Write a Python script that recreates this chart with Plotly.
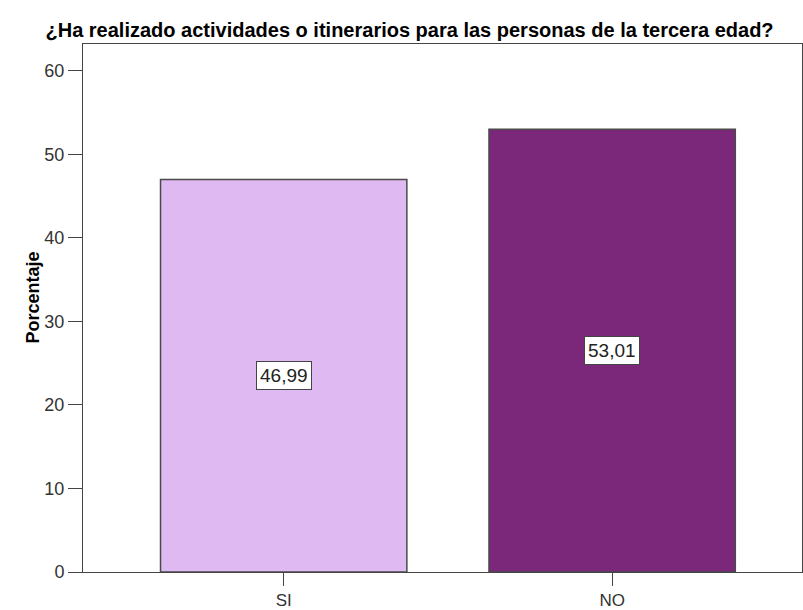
import plotly.graph_objects as go

# Survey answers and their percentages
categories = ["SI", "NO"]
percentages = [46.99, 53.01]
bar_colors = ["#DFB9F2", "#7B287B"]
y_ticks = [0, 10, 20, 30, 40, 50, 60]

title_text = "¿Ha realizado actividades o itinerarios para las personas de la tercera edad?"
y_title = "Porcentaje"

FONT = "Liberation Sans, Arial, sans-serif"

fig = go.Figure()
fig.add_trace(go.Bar(
    x=[0, 1],
    y=percentages,
    width=0.75,
    marker=dict(color=bar_colors, line=dict(color="#4a4a4a", width=1.5)),
    hoverinfo="skip",
))

# Value labels in white boxes at mid-height of each bar
for i, v in enumerate(percentages):
    fig.add_annotation(
        x=i, y=v / 2, xref="x", yref="y",
        text=f"{v:.2f}".replace(".", ","),
        showarrow=False,
        font=dict(family=FONT, size=19, color="#222222"),
        bgcolor="white", bordercolor="#444444", borderwidth=1, borderpad=3,
    )

# Rotated y-axis title
fig.add_annotation(
    x=0, y=0.52, xref="paper", yref="paper",
    xshift=-62, text=f"<b>{y_title}</b>", textangle=-90,
    showarrow=False, font=dict(family=FONT, size=18, color="#000000"),
)

fig.update_layout(
    width=803, height=610,
    margin=dict(l=83, r=0, t=44, b=34),
    paper_bgcolor="white", plot_bgcolor="white",
    showlegend=False,
    title=dict(
        text=f"<b>{title_text}</b>",
        x=0.51, xanchor="center", y=1 - 30 / 610, yanchor="middle",
        yref="container",
        font=dict(family=FONT, size=20, color="#000000"),
    ),
    xaxis=dict(
        range=[-0.611, 1.578],
        tickvals=[0, 1], ticktext=categories,
        ticks="outside", ticklen=13, tickcolor="#444444", tickwidth=1,
        showline=True, linecolor="#444444", linewidth=1, mirror=True,
        showgrid=False, zeroline=False,
        tickfont=dict(family=FONT, size=17, color="#333333"),
    ),
    yaxis=dict(
        range=[0, 63.2],
        tickvals=y_ticks,
        ticks="outside", ticklen=14, tickcolor="#444444", tickwidth=1,
        showline=True, linecolor="#444444", linewidth=1, mirror=True,
        showgrid=False, zeroline=False,
        tickfont=dict(family=FONT, size=18, color="#333333"),
    ),
)

fig.write_html("out.html")
